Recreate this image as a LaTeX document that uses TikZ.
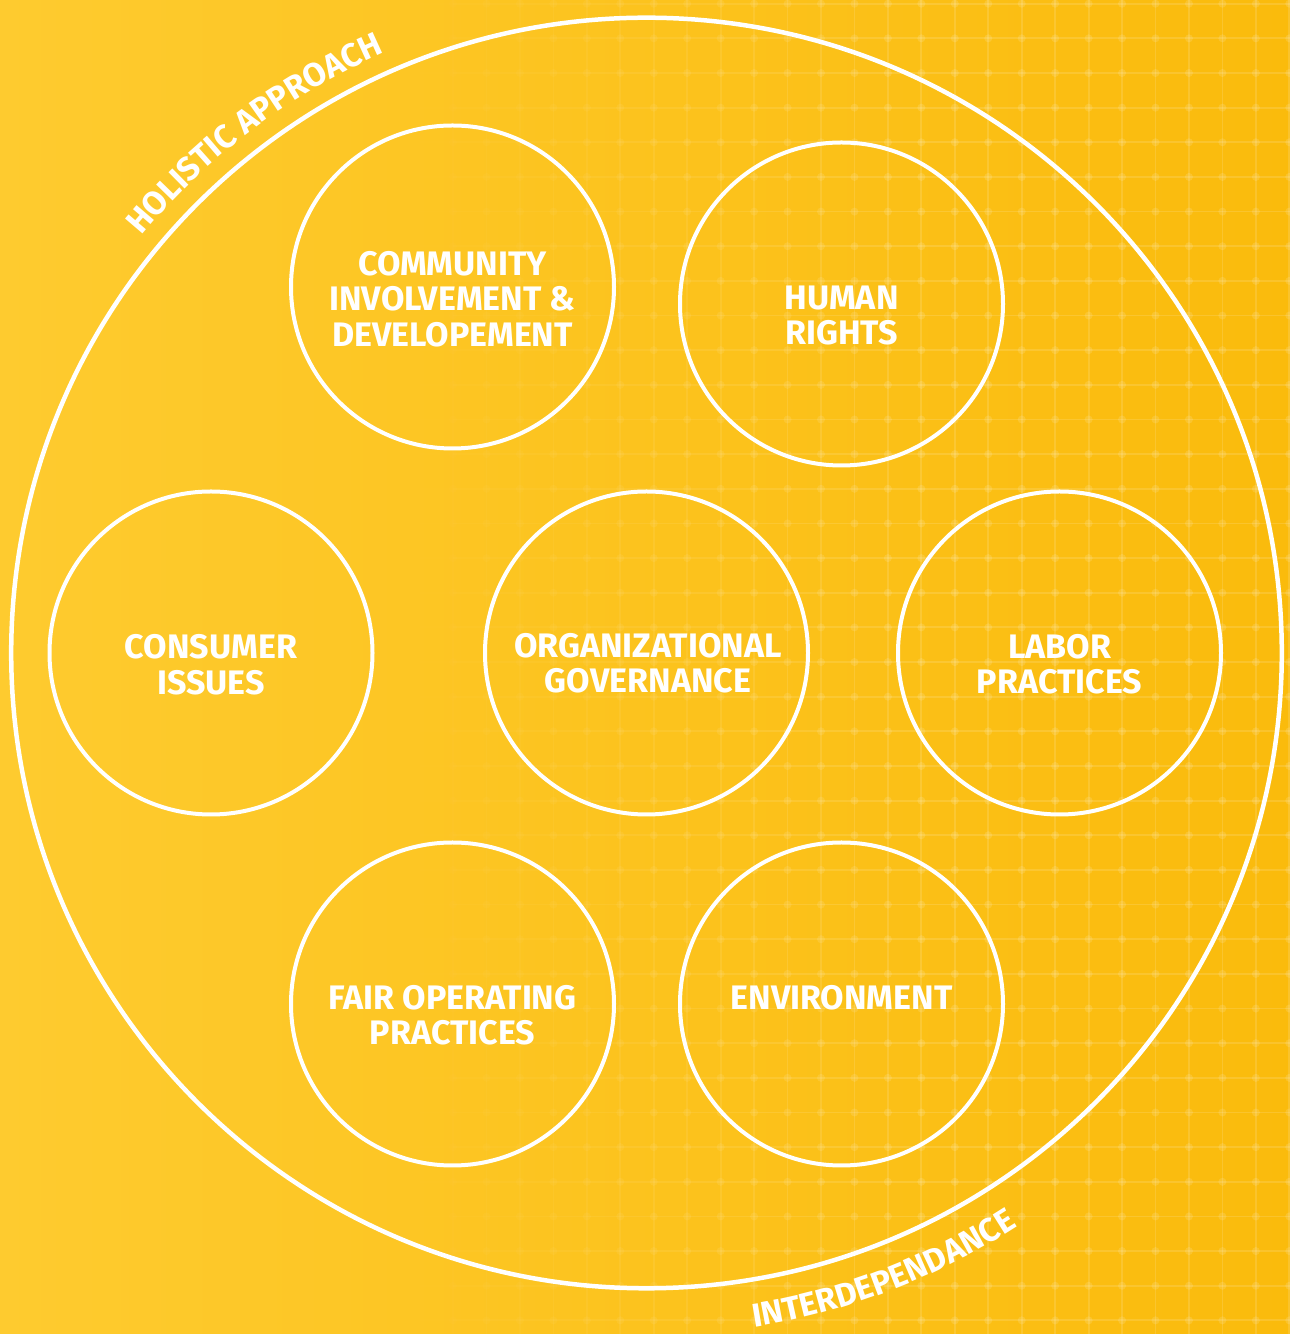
\documentclass[tikz,border=0pt]{standalone}
\usepackage{fontspec}
\usetikzlibrary{decorations.text}
\newfontfamily\lblfont{Fira Sans Bold}
\definecolor{bgL}{RGB}{254,203,47}
\definecolor{bgM}{RGB}{253,198,36}
\definecolor{bgR}{RGB}{250,187,12}
\tikzset{
  gridline/.style={white, line width=1.8pt},
  topic/.style={circle, draw=white, line width=4pt, minimum size=323pt, inner sep=0pt},
  lbl/.style={text=white, align=center, font=\lblfont\fontsize{34}{35.5}\selectfont, inner sep=0pt},
}
\begin{document}
\begin{tikzpicture}[x=1pt,y=1pt]
\useasboundingbox (0,0) rectangle (1290,1334);
\shade[left color=bgL, middle color=bgM, right color=bgR] (0,0) rectangle (1290,1334);
% grid
\foreach \i in {0,...,38}{
  \pgfmathsetmacro\gx{18.2+33.45*\i}
  \pgfmathsetmacro\ga{0.13*min(1,max(0,(\gx-400)/500))}
  \pgfmathsetmacro\gb{0.13*min(1,max(0,(\gx+16.7-400)/500))}
  \draw[gridline, opacity=\ga] (\gx,0) -- (\gx,1334);
  \foreach \j in {0,...,38}{
    \pgfmathsetmacro\gy{1334-3.7-34.65*\j}
    \draw[gridline, opacity=\gb] (\gx,\gy) -- ++(33.45,0);
    \fill[white, opacity=\ga] (\gx,\gy) circle (4);
  }
}
% outer circle
\coordinate (c) at (646.5,681);
\draw[white, line width=4.5pt] (c) circle (635.3);
\path[decorate, decoration={text along path, text align=center, text color=white,
  text={|\lblfont\fontsize{33}{33}\selectfont|HOLISTIC APPROACH}}]
  (c) ++(150:655) arc (150:104:655);
\path[decorate, decoration={text along path, text align=center, text color=white,
  text={|\lblfont\fontsize{33}{33}\selectfont|INTERDEPENDANCE}}]
  (c) ++(-92:683) arc (-92:-46:683);
% topic circles
\node[topic] (comm) at (452.5,1047) {};
\node[topic] (hr)   at (841.5,1030) {};
\node[topic] (cons) at (211,681) {};
\node[topic] (org)  at (646.5,681) {};
\node[topic] (lab)  at (1059.5,681) {};
\node[topic] (fair) at (452.5,330) {};
\node[topic] (env)  at (841.5,330) {};
% labels
\node[lbl] (tcomm) at (452.5,1035) {COMMUNITY\\INVOLVEMENT \&\\DEVELOPEMENT};
\node[lbl] (thr)   at (841.5,1018.5) {HUMAN\\RIGHTS};
\node[lbl] (tcons) at (211,669.5) {CONSUMER\\ISSUES};
\node[lbl] (torg)  at (648,671) {ORGANIZATIONAL\\GOVERNANCE};
\node[lbl] (tlab)  at (1059.5,670) {LABOR\\PRACTICES};
\node[lbl] (tfair) at (452.5,319) {FAIR OPERATING\\PRACTICES};
\node[lbl] (tenv)  at (841.5,336) {ENVIRONMENT};
\end{tikzpicture}
\end{document}
